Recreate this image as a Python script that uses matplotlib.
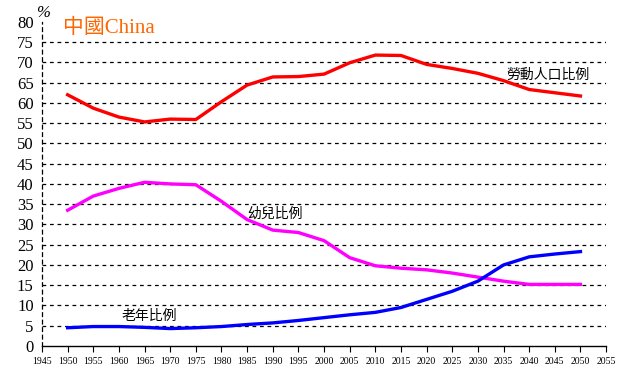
import numpy as np
import matplotlib.pyplot as plt

years = list(range(1950, 2051, 5))
working = [62, 58.7, 56.5, 55.3, 56, 55.9, 60.3, 64.4, 66.4, 66.5, 67.1, 69.9, 71.8, 71.7,
           69.5, 68.5, 67.3, 65.5, 63.3, 62.5, 61.7]
children = [33.5, 37, 38.9, 40.4, 40, 39.8, 35.7, 31.2, 28.6, 28, 26, 21.8, 19.8, 19.2,
            18.8, 18, 17, 16, 15.2, 15.2, 15.2]
elderly = [4.5, 4.8, 4.8, 4.6, 4.3, 4.5, 4.8, 5.3, 5.7, 6.3, 7, 7.7, 8.3, 9.5,
           11.5, 13.5, 16, 20, 22, 22.7, 23.3]

xticks = list(range(1945, 2056, 5))
yticks = list(range(0, 81, 5))

cjk = ['Noto Sans CJK TC', 'DejaVu Sans']
serif = ['Liberation Serif', 'DejaVu Serif']

fig = plt.figure(figsize=(6.24, 3.73), dpi=100)
ax = fig.add_axes([0.0673, 0.0724, 0.904, 0.869])

for y in yticks[1:-1]:
    ax.axhline(y, color='black', lw=0.9, ls=(0, (3, 3)), zorder=1)

ax.plot(years, working, color='#ff0000', lw=2.4, zorder=3)
ax.plot(years, children, color='#ff00ff', lw=2.4, zorder=3)
ax.plot(years, elderly, color='#0000ff', lw=2.4, zorder=3)

ax.set_xlim(1945, 2055)
ax.set_ylim(0, 80)
ax.set_xticks(xticks)
ax.set_xticklabels([str(v) for v in xticks], family=serif, fontsize=7)
ax.set_yticks(yticks)
ax.set_yticklabels([str(v) for v in yticks], family=serif, fontsize=12)
ax.tick_params(axis='x', length=4, width=0.8, direction='out', pad=4)
ax.tick_params(axis='y', length=0, pad=6)

ax.spines['top'].set_visible(False)
ax.spines['right'].set_visible(False)
ax.spines['left'].set_linestyle((0, (3, 3)))
ax.spines['left'].set_linewidth(0.9)
ax.spines['bottom'].set_linewidth(1.0)

ax.text(2043.7, 67, '勞動人口比例', family=cjk, fontsize=10, ha='center', va='center')
ax.text(1990.4, 32.6, '幼兒比例', family=cjk, fontsize=10, ha='center', va='center')
ax.text(1966, 7.4, '老年比例', family=cjk, fontsize=10, ha='center', va='center')

fig.text(0.101, 0.925, '中國China', family=['Liberation Serif', 'Noto Sans CJK TC'],
         fontsize=15, color='#ff6600', ha='left', va='center')
fig.text(0.069, 0.965, '%', family=serif, fontsize=12, style='italic',
         ha='center', va='center')

fig.savefig('out.png', dpi=100)
